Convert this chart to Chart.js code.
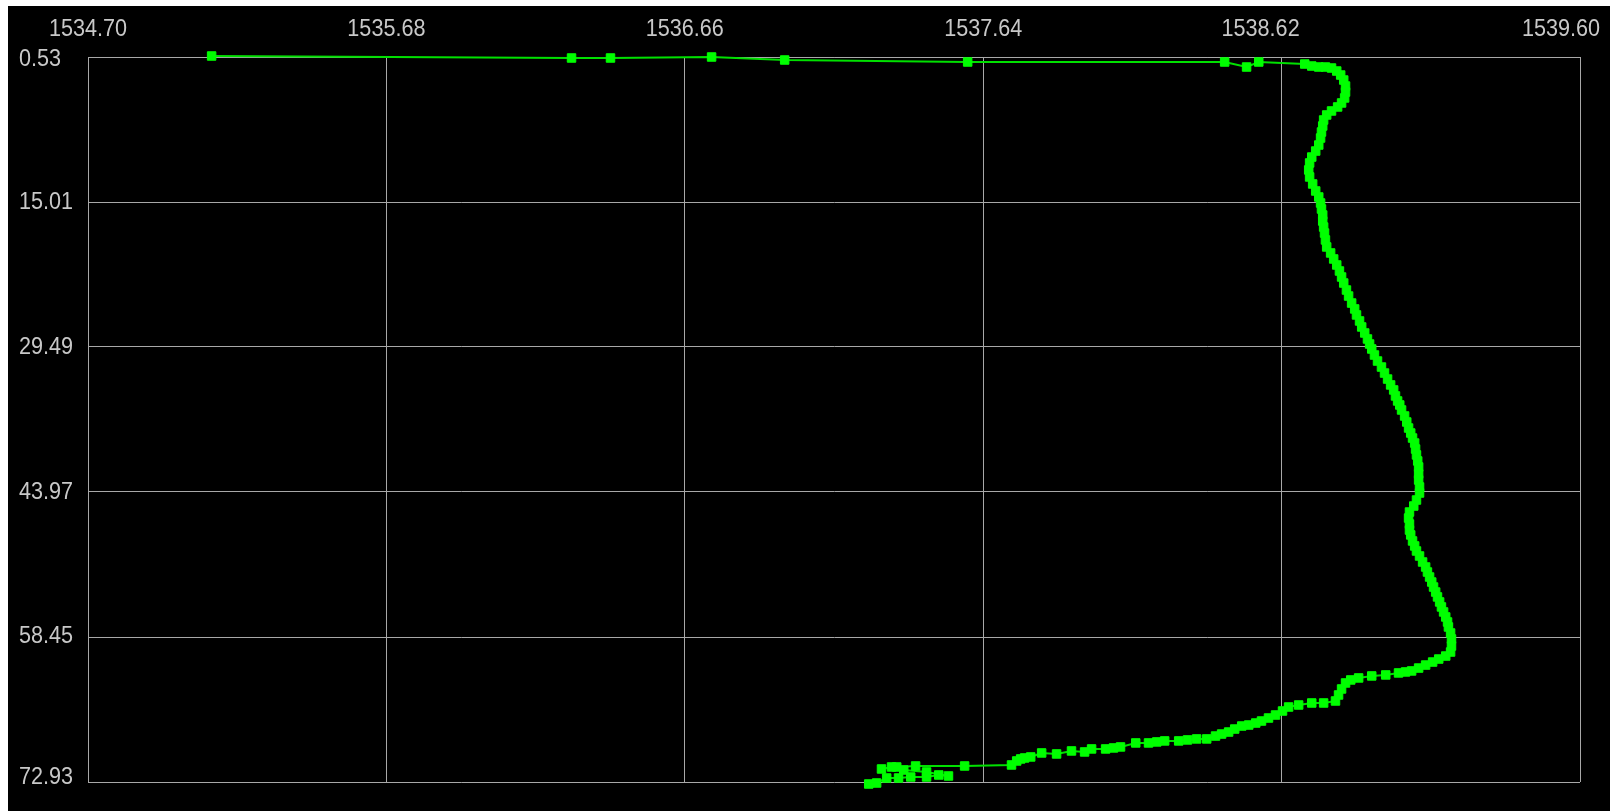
<!DOCTYPE html>
<html lang="en">
<head>
  <meta charset="UTF-8" />
  <title>Trace</title>
  <script src="https://cdn.jsdelivr.net/npm/chart.js"></script>
  <style>
    body {
      margin: 0;
      background: #fff;
    }

    .plot {
      position: absolute;
      left: 8px;
      top: 6px;
      width: 1602px;
      height: 805px;
      background: #000;
    }
  </style>
</head>
<body>
  <div class="plot">
    <canvas id="trace"></canvas>
  </div>

  <script>
    const xTicks = [1534.70, 1535.68, 1536.66, 1537.64, 1538.62, 1539.60];
    const yTicks = [0.53, 15.01, 29.49, 43.97, 58.45, 72.93];

    const xValues = [
      1535.106, 1536.288, 1536.416, 1536.748, 1536.988, 1537.589, 1538.433, 1538.505, 1538.545, 1538.696,
      1538.719, 1538.742, 1538.764, 1538.784, 1538.801, 1538.814, 1538.824, 1538.830, 1538.830, 1538.827,
      1538.817, 1538.804, 1538.784, 1538.768, 1538.758, 1538.755, 1538.751, 1538.748, 1538.742, 1538.732,
      1538.719, 1538.712, 1538.709, 1538.712, 1538.722, 1538.732, 1538.742, 1538.748, 1538.751, 1538.755,
      1538.755, 1538.758, 1538.761, 1538.764, 1538.768, 1538.781, 1538.791, 1538.801, 1538.810, 1538.817,
      1538.824, 1538.833, 1538.840, 1538.850, 1538.860, 1538.866, 1538.876, 1538.883, 1538.893, 1538.902,
      1538.909, 1538.916, 1538.925, 1538.935, 1538.948, 1538.958, 1538.968, 1538.978, 1538.988, 1538.994,
      1539.001, 1539.008, 1539.014, 1539.024, 1539.031, 1539.037, 1539.044, 1539.050, 1539.057, 1539.060,
      1539.063, 1539.067, 1539.070, 1539.070, 1539.070, 1539.073, 1539.073, 1539.063, 1539.054, 1539.040,
      1539.037, 1539.040, 1539.040, 1539.044, 1539.050, 1539.057, 1539.063, 1539.073, 1539.083, 1539.093,
      1539.099, 1539.106, 1539.113, 1539.119, 1539.126, 1539.132, 1539.139, 1539.145, 1539.152, 1539.159,
      1539.165, 1539.168, 1539.175, 1539.178, 1539.178, 1539.175, 1539.159, 1539.136, 1539.116, 1539.093,
      1539.070, 1539.047, 1539.027, 1539.004, 1538.962, 1538.916, 1538.873, 1538.847, 1538.830, 1538.817,
      1538.807, 1538.797, 1538.758, 1538.719, 1538.676, 1538.643, 1538.623, 1538.600, 1538.577, 1538.554,
      1538.535, 1538.512, 1538.489, 1538.466, 1538.446, 1538.423, 1538.403, 1538.374, 1538.341, 1538.311,
      1538.282, 1538.236, 1538.210, 1538.183, 1538.141, 1538.091, 1538.068, 1538.042, 1537.996, 1537.973,
      1537.930, 1537.881, 1537.832, 1537.796, 1537.776, 1537.763, 1537.750, 1537.733, 1537.579, 1537.418,
      1537.356, 1537.306, 1537.339, 1537.379, 1537.454, 1537.526, 1537.494, 1537.454, 1537.402, 1537.362,
      1537.323, 1537.290, 1537.264
    ];

    const yValues = [
      0.43, 0.63, 0.63, 0.53, 0.83, 1.03, 1.03, 1.53, 1.03, 1.23,
      1.43, 1.53, 1.53, 1.63, 1.93, 2.33, 2.83, 3.43, 4.03, 4.62,
      5.12, 5.52, 5.92, 6.32, 6.82, 7.42, 8.02, 8.62, 9.32, 9.92,
      10.52, 11.11, 11.81, 12.51, 13.21, 13.91, 14.51, 15.11, 15.71, 16.31,
      16.91, 17.51, 18.11, 18.80, 19.50, 20.10, 20.70, 21.30, 21.90, 22.50,
      23.10, 23.80, 24.40, 25.10, 25.69, 26.29, 26.89, 27.49, 28.09, 28.69,
      29.19, 29.69, 30.29, 30.89, 31.49, 32.09, 32.69, 33.28, 33.78, 34.38,
      34.88, 35.28, 35.78, 36.38, 36.98, 37.58, 38.08, 38.58, 39.08, 39.68,
      40.27, 40.87, 41.47, 42.17, 42.77, 43.47, 44.07, 44.77, 45.37, 45.97,
      46.57, 47.17, 47.77, 48.26, 48.86, 49.36, 49.86, 50.36, 50.96, 51.46,
      51.96, 52.46, 52.96, 53.46, 53.96, 54.45, 54.95, 55.45, 55.95, 56.45,
      56.95, 57.45, 58.05, 58.65, 59.35, 59.95, 60.35, 60.65, 60.95, 61.25,
      61.55, 61.84, 61.94, 62.04, 62.24, 62.34, 62.54, 62.74, 63.04, 63.64,
      64.24, 64.84, 65.04, 65.04, 65.24, 65.44, 65.84, 66.24, 66.54, 66.84,
      67.04, 67.24, 67.34, 67.64, 67.94, 68.14, 68.34, 68.63, 68.63, 68.73,
      68.83, 68.83, 68.93, 69.03, 69.03, 69.43, 69.53, 69.63, 69.63, 69.93,
      69.83, 70.13, 70.03, 70.43, 70.53, 70.63, 70.83, 71.23, 71.33, 71.33,
      71.43, 71.63, 71.43, 71.73, 71.93, 72.33, 72.23, 72.43, 72.43, 72.53,
      72.53, 73.03, 73.13
    ];

    // nudges for tick labels that sit off their grid line
    const xLabelShift = [0, 0, 0, 0, -21, -19];
    const yLabelShift = [2, 0, 0, 0, -1, -5];

    const gridGray = "#a8a8a8";
    const labelGray = "#c8c8c8";

    const points = xValues.map((x, i) => ({ x: x, y: yValues[i] }));

    // tick labels drawn by hand so they keep the narrow look and the clamped positions
    const tickLabels = {
      id: "tickLabels",
      afterDraw(chart) {
        const ctx = chart.ctx;
        const xs = chart.scales.x;
        const ys = chart.scales.y;
        ctx.save();
        ctx.fillStyle = labelGray;
        ctx.font = '24px "Liberation Sans", Arial, sans-serif';
        ctx.textBaseline = "middle";

        ctx.textAlign = "center";
        xTicks.forEach((v, i) => {
          ctx.save();
          ctx.translate(xs.getPixelForValue(v) + xLabelShift[i], 23);
          ctx.scale(0.9, 1);
          ctx.fillText(v.toFixed(2), 0, 0);
          ctx.restore();
        });

        ctx.textAlign = "left";
        yTicks.forEach((v, i) => {
          ctx.save();
          ctx.translate(11, ys.getPixelForValue(v) + yLabelShift[i]);
          ctx.scale(0.9, 1);
          ctx.fillText(v.toFixed(2), 0, 0);
          ctx.restore();
        });
        ctx.restore();
      }
    };

    new Chart(document.getElementById("trace"), {
      type: "scatter",
      data: {
        datasets: [{
          data: points,
          showLine: true,
          borderColor: "#00e000",
          borderWidth: 2,
          pointStyle: "rect",
          pointRadius: 6,
          pointBorderWidth: 1,
          pointBackgroundColor: "#00ff00",
          pointBorderColor: "#00ff00",
          clip: false
        }]
      },
      options: {
        responsive: true,
        maintainAspectRatio: false,
        animation: false,
        layout: { padding: { right: 30, bottom: 29 } },
        plugins: {
          legend: { display: false },
          tooltip: { enabled: false }
        },
        scales: {
          x: {
            type: "linear",
            position: "top",
            min: xTicks[0],
            max: xTicks[xTicks.length - 1],
            afterBuildTicks: s => { s.ticks = xTicks.map(v => ({ value: v })); },
            afterFit: s => { s.height = 51; },
            ticks: { display: false },
            grid: { color: gridGray, lineWidth: 1, drawTicks: false },
            border: { color: gridGray, width: 1 }
          },
          y: {
            type: "linear",
            reverse: true,
            min: yTicks[0],
            max: yTicks[yTicks.length - 1],
            afterBuildTicks: s => { s.ticks = yTicks.map(v => ({ value: v })); },
            afterFit: s => { s.width = 80; },
            ticks: { display: false },
            grid: { color: gridGray, lineWidth: 1, drawTicks: false },
            border: { color: gridGray, width: 1 }
          }
        }
      },
      plugins: [tickLabels]
    });
  </script>
</body>
</html>
